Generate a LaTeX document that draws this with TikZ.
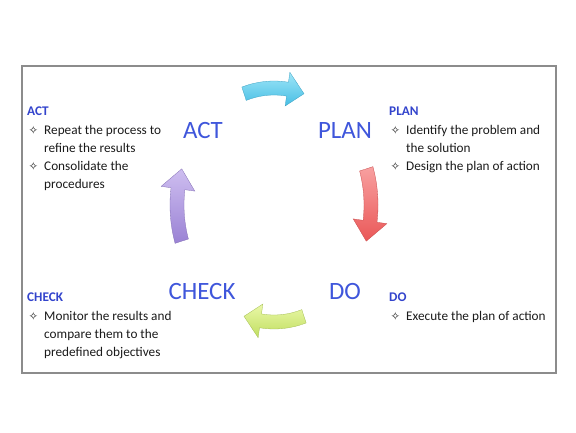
\documentclass[tikz,border=0pt]{standalone}
\usepackage{fontspec}
\setmainfont{Carlito}
\newfontfamily\symfont{DejaVu Sans}
\usetikzlibrary{calc,positioning}
\definecolor{framegray}{HTML}{8C8C8C}
\definecolor{headblue}{HTML}{3344CC}
\definecolor{labelblue}{HTML}{3F56DB}
\definecolor{textdark}{HTML}{1A1A1A}
\definecolor{cyanlight}{HTML}{A0E6F8}
\definecolor{cyandark}{HTML}{46BEE4}
\definecolor{redlight}{HTML}{F8A0A0}
\definecolor{reddark}{HTML}{EA5858}
\definecolor{greenlight}{HTML}{EAF8A8}
\definecolor{greendark}{HTML}{C0DE60}
\definecolor{purplelight}{HTML}{CEBEF0}
\definecolor{purpledark}{HTML}{9A82D4}
\tikzset{
  x=1bp, y=1bp,
  phase/.style={font=\fontsize{25}{30}\selectfont, text=labelblue, inner sep=0pt, anchor=base},
  notes/.style={font=\fontsize{13.3}{18.3}\selectfont, text=textdark, align=left,
    inner sep=0pt, anchor=north west}
}
\newcommand{\bul}{\makebox[17bp][l]{\hspace{1.5bp}{\symfont\fontsize{11.5}{10}\selectfont ✧}}}
\newcommand{\ind}{\hspace*{17bp}}
\newcommand{\notehead}[1]{{\bfseries\color{headblue}#1}}
% curved block arrow on the cycle (centre cyc, radii 97/117):
% tail angle, head base angle, tip angle, light, dark
\newcommand{\cyclearrow}[5]{
  \shadedraw[top color=#4, bottom color=#5, draw=#5!85!black, line width=0.3bp]
    ($(cyc)+(#1:104 and 124)$)
    arc[start angle=#1, end angle=#2, x radius=104, y radius=124]
    -- ($(cyc)+(#2:114 and 134)$)
    -- ($(cyc)+(#3:97 and 117)$)
    -- ($(cyc)+(#2:80 and 100)$)
    -- ($(cyc)+(#2:90 and 110)$)
    arc[start angle=#2, end angle=#1, x radius=90, y radius=110]
    -- cycle;
}

\begin{document}
\begin{tikzpicture}
\useasboundingbox (0,0) rectangle (576,432);
\draw[framegray, line width=1.2bp] (22,59) rectangle (556,366);
\coordinate (cyc) at (274,227);

% the four phases of the cycle
\node[phase] (actlabel) at (203,294) {ACT};
\node[phase] (planlabel) at (345,294) {PLAN};
\node[phase] (checklabel) at (202,133) {CHECK};
\node[phase] (dolabel) at (345,133) {DO};

\cyclearrow{108}{82}{72}{cyanlight}{cyandark}
\cyclearrow{18}{-8}{-18}{redlight}{reddark}
\cyclearrow{-72}{-98}{-108}{greenlight}{greendark}
\cyclearrow{198}{172}{162}{purplelight}{purpledark}

% notes beside each phase
\node[notes] (actnotes) at (27,325) {\notehead{ACT}\\
  \bul Repeat the process to\\ \ind refine the results\\
  \bul Consolidate the\\ \ind procedures};
\node[notes] (plannotes) at (389,325) {\notehead{PLAN}\\
  \bul Identify the problem and\\ \ind the solution\\
  \bul Design the plan of action};
\node[notes] (checknotes) at (27,139) {\notehead{CHECK}\\
  \bul Monitor the results and\\ \ind compare them to the\\
  \ind predefined objectives};
\node[notes] (donotes) at (389,139) {\notehead{DO}\\
  \bul Execute the plan of action};
\end{tikzpicture}
\end{document}
